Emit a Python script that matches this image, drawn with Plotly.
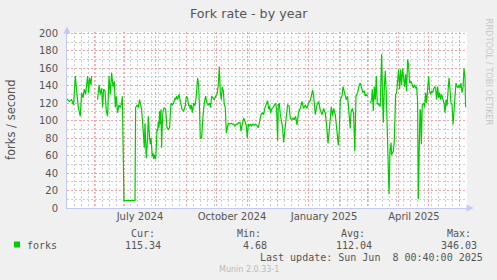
import plotly.graph_objects as go
import pandas as pd

# ---------------- data ----------------
range_start = pd.Timestamp("2024-05-04 00:40")
range_end = pd.Timestamp("2025-06-08 00:40")

# sample time as days after range_start, and fork rate (forks / second)
day_offset = [
    0.0, 2.3, 4.6, 6.6, 8.3, 10.0, 11.3, 13.3, 14.6, 16.0, 17.3, 18.6, 20.0, 20.6, 21.6, 22.6, 24.0, 24.6,
    27.5,
    30.6, 32.0, 33.3, 34.6, 35.6, 36.6, 38.0, 39.3, 40.6, 42.0, 43.3, 44.6, 46.0, 47.3, 48.3, 49.3, 50.6,
    52.0, 53.3, 54.6, 55.3, 57.0, 68.0, 68.6, 70.0, 71.3, 72.6, 73.6, 74.6, 76.0, 77.3, 78.0, 79.3, 80.6,
    81.3, 82.6, 83.3, 84.0, 84.6, 85.3, 86.0, 86.6, 87.3, 88.0, 88.6, 89.3, 90.0, 90.6, 91.3, 92.0, 92.6,
    93.3, 94.0, 94.6, 95.3, 96.0, 97.3, 98.6, 100.0, 101.3, 102.6, 104.0, 105.3, 106.6, 108.0, 108.6,
    109.6, 110.6, 112.0, 113.3, 115.0, 116.6, 118.3, 119.3, 120.6, 121.6, 122.6, 123.3, 124.3, 125.3,
    126.6, 128.0, 129.3, 130.6, 131.6, 132.6, 133.3, 134.6, 135.3, 136.0, 137.3, 138.6, 140.0, 141.3,
    142.6, 143.6, 144.6, 146.0, 147.3, 148.6, 150.0, 151.3, 152.3, 153.3, 154.3, 155.3, 156.3, 157.3,
    158.3, 159.3, 160.3, 161.3, 162.6, 164.0, 165.3, 166.6, 168.0, 169.3, 170.6, 171.3, 173.0, 174.0,
    175.3, 176.6, 178.0, 179.3, 180.3, 181.3, 182.6, 183.6, 184.6, 186.0, 187.3, 188.6, 190.0, 191.3,
    192.6, 194.0, 195.3, 196.6, 198.0, 199.3, 200.6, 201.6, 202.6, 203.6, 204.6, 206.0, 207.3, 208.6,
    209.6, 210.6, 211.3, 212.3, 213.3, 214.6, 215.6, 216.6, 218.0, 219.3, 220.6, 222.0, 223.3, 224.6,
    226.0, 227.3, 228.6, 230.0, 231.6, 233.3, 235.0, 236.6, 238.3, 240.0, 241.6, 243.5, 245.6, 246.6,
    248.3, 250.0, 251.6, 253.3, 255.0, 256.6, 258.3, 260.0, 261.0, 262.3, 263.3, 264.3, 265.6, 266.6,
    268.3, 270.0, 271.3, 272.3, 273.3, 275.0, 276.0, 277.3, 278.3, 279.3, 280.6, 281.6, 283.3, 284.0,
    285.3, 286.6, 287.8, 289.0, 290.6, 292.3, 293.3, 294.6, 296.0, 297.3, 298.3, 299.3, 300.6,
    302.0,
    303.3, 304.6, 305.3, 306.3, 307.3, 308.3, 309.3, 310.3, 311.3, 312.3, 313.3, 314.6, 315.6, 316.3,
    317.3, 318.3, 319.3, 320.3, 321.3, 322.0, 323.0, 324.0, 324.6, 325.3, 326.3, 327.3, 328.0, 328.6,
    329.6, 330.6, 331.6, 332.6, 333.6, 334.6, 335.6, 336.6, 337.6, 338.6, 339.6, 340.6, 341.6, 342.6,
    344.0, 345.3, 346.3, 347.3, 348.6, 349.6, 350.6, 351.3, 352.3, 353.0, 353.6, 354.3, 355.3, 356.6,
    357.6, 358.6, 359.6, 360.6, 361.6, 362.6, 363.6, 364.6, 365.6, 366.6, 367.6, 368.6, 369.6, 370.6,
    371.6, 372.6, 373.6, 374.6, 376.0, 377.0, 378.0, 379.0, 380.0, 381.0, 382.0, 383.0, 384.0, 385.0,
    386.0, 387.0, 388.0, 389.0, 390.0, 391.0, 392.0, 393.0, 394.0, 395.0, 396.0, 397.0, 398.0, 398.6,
]
forks = [
    125, 122, 124, 118, 151, 130, 115, 105, 132, 126, 136, 130, 145, 151, 132, 149, 141, 151,
    None,
    124, 141, 130, 137, 115, 136, 134, 111, 105, 151, 130, 155, 139, 145, 115, 128, 109,
    118, 115, 120, 128, 8.5, 8.5, 115, 118, 115, 124, 120, 113, 92, 69, 97, 57, 80,
    105, 80, 73, 80, 69, 59, 63, 56, 61, 59, 56, 69, 90, 88, 99, 92, 111,
    96, 113, 69, 96, 111, 115, 113, 92, 90, 92, 120, 118, 120, 126, 124,
    128, 124, 130, 122, 113, 111, 117, 128, 126, 117, 118, 113, 118, 109,
    120, 117, 128, 149, 141, 111, 80, 80, 101, 105, 120, 128, 120, 118,
    120, 115, 128, 126, 124, 128, 130, 141, 162, 132, 124, 139, 134, 118,
    115, 86, 92, 97, 96, 97, 96, 96, 94, 96, 96, 97.5, 98, 88,
    96, 103, 99, 94, 80, 96, 94, 96, 94, 96, 94.5, 96, 94, 92,
    99, 107, 109, 107, 115, 120, 123, 113, 117, 109, 113, 115, 117, 120,
    113, 77, 118, 120, 107, 96, 92, 75, 92, 107, 118, 117, 103, 101,
    103, 101, 105, 95, 110, 114, 122, 114, 118, 114, 120, 124, 135, 129,
    107, 118, 122, 112, 107, 114, 108.5, 89.5, 74, 89.5, 108.5, 116, 105, 114,
    107, 91, 72, 89.5, 124, 128, 139, 133, 129.5, 124, 128, 116, 91, 110,
    114, 108.5, 65, 128, 132, 141, 143, 137.5, 132, 134, 128, 130, 128,
    None,
    120, 124, 136, 111, 139, 124, 151, 118.5, 120, 117, 117, 176, 126, 97.5,
    137.5, 157, 130, 84, 61, 16, 65, 75, 61, 63, 65, 77, 99, 130,
    132, 143, 158.5, 136, 158.5, 141, 160, 149, 139, 153, 134, 170, 164, 143,
    145, 141, 137.5, 141, 137.5, 139, 122, 10, 73, 113, 111, 73, 118.5, 120,
    115, 132, 120, 136, 151, 134, 130, 134, 132, 136, 139, 137.5, 124, 139,
    126, 132, 124, 130, 122, 120, 109, 124, 117, 137.5, 149, 136, 120, 118.5,
    95.6, 111, 132, 143, 139, 137.5, 141, 137.5, 143, 132, 137.5, 160, 149, 115.3,
]

y_ticks = [0, 20, 40, 60, 80, 100, 120, 140, 160, 180, 200]
month_starts = pd.date_range("2024-05-01", "2025-06-01", freq="MS")
label_dates = ["2024-07-16", "2024-10-16", "2025-01-16", "2025-04-16"]
label_text = ["July 2024", "October 2024", "January 2025", "April 2025"]

legend_name = "forks"
stat_labels = ["Cur:", "Min:", "Avg:", "Max:"]
stat_values = ["115.34", "4.68", "112.04", "346.03"]
last_update = "Last update: Sun Jun \u00a08 00:40:00 2025"

# ---------------- figure ----------------
W, H = 497, 280
L, R, T, B = 67, 30, 32, 72
PW, PH = W - L - R, H - T - B


def px(x):
    return (x - L) / PW


def py(y):
    return (H - B - y) / PH


times = [range_start + pd.Timedelta(days=d) for d in day_offset]

fig = go.Figure()
fig.add_trace(go.Scatter(
    x=times, y=forks, mode="lines",
    line=dict(color="#00CC00", width=1.2),
    connectgaps=False, showlegend=False, hoverinfo="skip",
))
# carrier for the label axis
fig.add_trace(go.Scatter(x=[range_start, range_end], y=[None, None], xaxis="x2",
                         mode="lines", showlegend=False, hoverinfo="skip"))

text_col = "#555555"
major_col = "#f4a4a4"
minor_col = "#cfcfcf"
axis_col = "#c4c8f4"
grid_dash = "2px,2px"
sans = "DejaVu Sans"
mono = "DejaVu Sans Mono"

fig.update_layout(
    width=W, height=H,
    margin=dict(l=L, r=R, t=T, b=B),
    paper_bgcolor="#F0F0F0", plot_bgcolor="#FFFFFF",
    showlegend=False,
    xaxis=dict(
        type="date", range=[range_start, range_end],
        tickmode="array", tickvals=list(month_starts),
        showticklabels=False, ticks="",
        showgrid=True, gridcolor=major_col, griddash=grid_dash, gridwidth=1,
        minor=dict(tickmode="linear", tick0="2024-05-05", dtick=7 * 86400000,
                   showgrid=True, gridcolor=minor_col, griddash=grid_dash, gridwidth=1, ticks=""),
        showline=True, linecolor=axis_col, linewidth=1,
        zeroline=False, fixedrange=True,
    ),
    xaxis2=dict(
        type="date", range=[range_start, range_end], overlaying="x", anchor="y", side="bottom",
        tickmode="array", tickvals=label_dates, ticktext=label_text,
        tickfont=dict(family=sans, size=10, color=text_col),
        showgrid=False, showline=False, zeroline=False, ticks="",
        ticklabelstandoff=1,
    ),
    yaxis=dict(
        range=[0, 201.5],
        tickmode="array", tickvals=y_ticks,
        tickfont=dict(family=sans, size=10, color=text_col),
        showgrid=True, gridcolor=major_col, griddash=grid_dash, gridwidth=1,
        minor=dict(tickmode="linear", tick0=0, dtick=10, showgrid=True,
                   gridcolor=minor_col, griddash=grid_dash, gridwidth=1, ticks=""),
        showline=True, linecolor=axis_col, linewidth=1,
        zeroline=False, ticks="", ticklabelstandoff=6, fixedrange=True,
    ),
)

ann = []
# title
ann.append(dict(text="Fork rate - by year", x=px(248.5), y=py(13.3), xref="paper", yref="paper",
                showarrow=False, xanchor="center", yanchor="middle",
                font=dict(family=sans, size=12.7, color=text_col)))
# y-axis title
ann.append(dict(text="forks / second", x=px(10.5), y=py(119.5), xref="paper", yref="paper",
                showarrow=False, textangle=-90, xanchor="center", yanchor="middle",
                font=dict(family=sans, size=11.5, color=text_col)))
# rrdtool credit
ann.append(dict(text="RRDTOOL / TOBI OETIKER", x=px(488.5), y=py(72), xref="paper", yref="paper",
                showarrow=False, textangle=90, xanchor="center", yanchor="middle",
                font=dict(family=sans, size=8.3, color="#c8c8c8")))
# axis arrows
ann.append(dict(text="", x=0, y=py(26.5), xref="paper", yref="paper", showarrow=True,
                ax=0, ay=7, arrowhead=2, arrowsize=1.4, arrowwidth=1, arrowcolor=axis_col))
ann.append(dict(text="", x=px(473.5), y=0, xref="paper", yref="paper", showarrow=True,
                ax=-7, ay=0, arrowhead=2, arrowsize=1.4, arrowwidth=1, arrowcolor=axis_col))

# legend / statistics block
ann.append(dict(text=legend_name, x=px(26), y=py(245.5), xref="paper", yref="paper",
                showarrow=False, xanchor="left", yanchor="middle", borderpad=0,
                font=dict(family=mono, size=10, color=text_col)))
label_right = [155.5, 261.5, 366.2, 471.5]
value_right = [162, 268, 373, 478]
for lab, xr in zip(stat_labels, label_right):
    ann.append(dict(text=lab, x=px(xr), y=py(233.3), xref="paper", yref="paper",
                    showarrow=False, xanchor="right", yanchor="middle", borderpad=0,
                    font=dict(family=mono, size=10, color=text_col)))
for val, xr in zip(stat_values, value_right):
    ann.append(dict(text=val, x=px(xr), y=py(245.5), xref="paper", yref="paper",
                    showarrow=False, xanchor="right", yanchor="middle", borderpad=0,
                    font=dict(family=mono, size=10, color=text_col)))
ann.append(dict(text=last_update, x=px(484), y=py(257.5), xref="paper", yref="paper",
                showarrow=False, xanchor="right", yanchor="middle", borderpad=0,
                font=dict(family=mono, size=10, color=text_col)))
ann.append(dict(text="Munin 2.0.33-1", x=px(248.7), y=py(269.4), xref="paper", yref="paper",
                showarrow=False, xanchor="center", yanchor="middle", borderpad=0,
                font=dict(family=sans, size=8, color="#bbbbbb")))
fig.update_layout(annotations=ann)

fig.add_shape(type="rect", xref="paper", yref="paper",
              x0=px(14), x1=px(20), y0=py(247.5), y1=py(241.5),
              fillcolor="#00CC00", line=dict(width=0))

fig.write_html("out.html")
